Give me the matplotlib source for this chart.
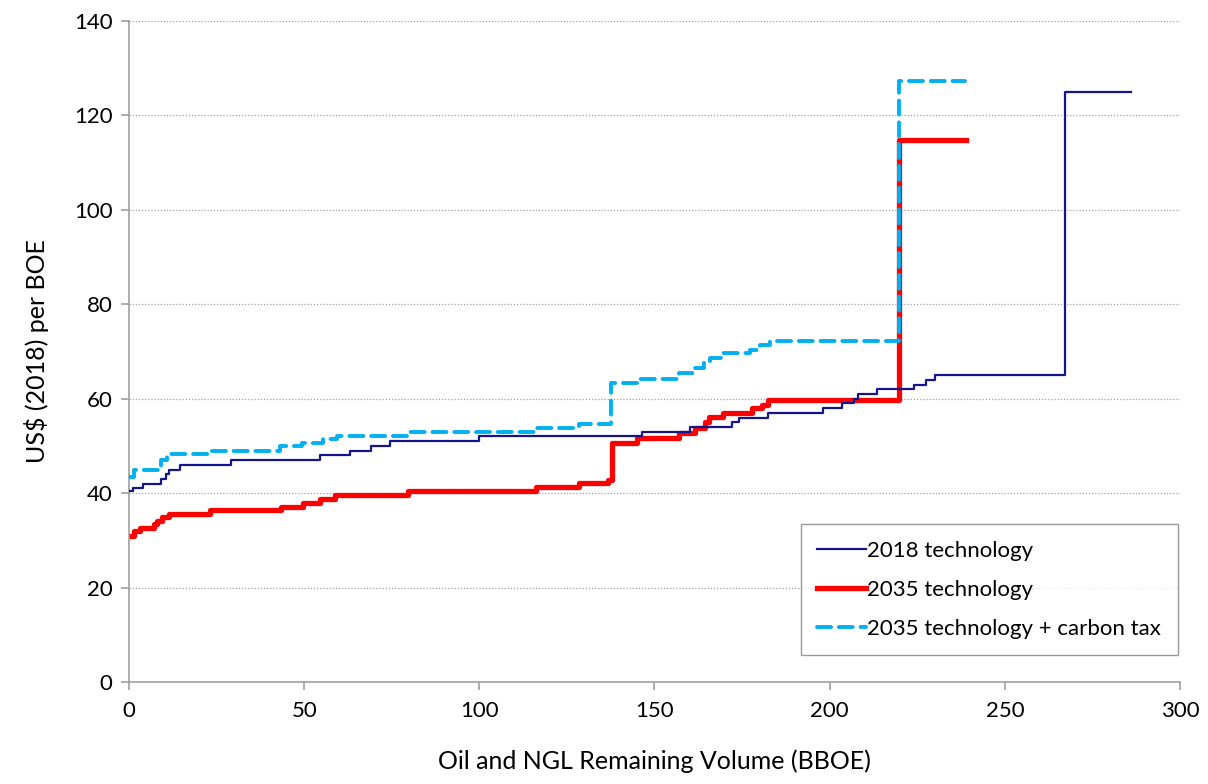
import matplotlib
matplotlib.use("Agg")
import matplotlib.pyplot as plt

plt.rcParams['font.family'] = ['Lato', 'DejaVu Sans']

# volume (BBOE) at which each price step starts, last value = end of curve
x_2018 = [0, 1, 4, 9, 10.5, 11.5, 14.5, 29, 54.5, 63, 69, 74.5, 100, 146.3, 160,
          172, 174, 182.5, 198, 203.5, 207, 208, 213.5, 224, 227.5, 230, 267.2, 286]
y_2018 = [40.5, 41, 42, 43, 44, 45, 46, 47, 48, 49, 50, 51, 52, 53, 54,
          55, 56, 57, 58, 59, 60, 61, 62, 63, 64, 65, 125, 125]

x_2035 = [0, 1.5, 3, 7, 8, 9.3, 11.5, 23, 43.3, 49.8, 54.5, 58.8, 79.7, 116.2,
          128.5, 136.8, 137.8, 145, 157, 161.6, 164.4, 165.5, 169.6, 177.7, 180.6,
          182.5, 219.7, 239]
y_2035 = [31, 32, 32.7, 33.5, 34.2, 34.9, 35.6, 36.4, 37.1, 37.9, 38.7, 39.6, 40.4,
          41.3, 42.1, 42.8, 50.6, 51.6, 52.8, 53.9, 55.1, 56.2, 56.9, 58, 58.7,
          59.7, 114.8, 114.8]

x_tax = [0, 1.5, 9, 10.8, 23.1, 43.1, 49.3, 55.5, 59.3, 79.7, 115.9, 128.5, 137.5,
         145.1, 157.1, 161.1, 164, 165.9, 169, 177.3, 180.1, 183, 219.9, 238.6]
y_tax = [43.5, 44.9, 47, 48.3, 49, 49.9, 50.7, 51.4, 52.1, 53, 53.7, 54.7, 63.3,
         64.2, 65.5, 66.5, 67.9, 68.6, 69.6, 70.3, 71.4, 72.2, 127.3, 127.3]

fig = plt.figure(figsize=(12.08, 7.84), dpi=100)
ax = fig.add_axes([0.1068, 0.1301, 0.87, 0.8431])

ax.plot(x_2018, y_2018, drawstyle='steps-post', color='#14148C', lw=1.6,
        label='2018 technology', zorder=3)
ax.plot(x_2035, y_2035, drawstyle='steps-post', color='#FF0000', lw=3.8,
        label='2035 technology', zorder=2)
ax.plot(x_tax, y_tax, drawstyle='steps-post', color='#00B0F0', lw=2.8,
        dashes=(3.6, 2.0), dash_capstyle='round',
        label='2035 technology + carbon tax', zorder=4)

ax.set_xlim(0, 300)
ax.set_ylim(0, 140)
ax.set_xticks(range(0, 301, 50))
ax.set_yticks(range(0, 141, 20))
ax.grid(axis='y', color='#A0A0A0', linestyle=(0, (1, 1.5)), lw=0.9)
ax.set_axisbelow(True)

for s in ['top', 'right']:
    ax.spines[s].set_visible(False)
for s in ['left', 'bottom']:
    ax.spines[s].set_color('#A0A0A0')
    ax.spines[s].set_linewidth(1.2)
ax.tick_params(axis='both', colors='#A0A0A0', labelcolor='black',
               labelsize=16, length=6, width=1.2)
ax.tick_params(axis='x', pad=8)
ax.tick_params(axis='y', pad=6)

ax.set_xlabel('Oil and NGL Remaining Volume (BBOE)', fontsize=18, labelpad=20)
ax.set_ylabel('US$ (2018) per BOE', fontsize=18, labelpad=18)

leg = ax.legend(loc='lower right', bbox_to_anchor=(1.0, 0.037), fontsize=16,
                frameon=True, fancybox=False, handlelength=2.2, handletextpad=0.05,
                labelspacing=0.85, borderpad=0.75, borderaxespad=0.1)
leg.get_frame().set_edgecolor('#808080')
leg.get_frame().set_linewidth(1.0)

fig.savefig('out.png', dpi=100)
